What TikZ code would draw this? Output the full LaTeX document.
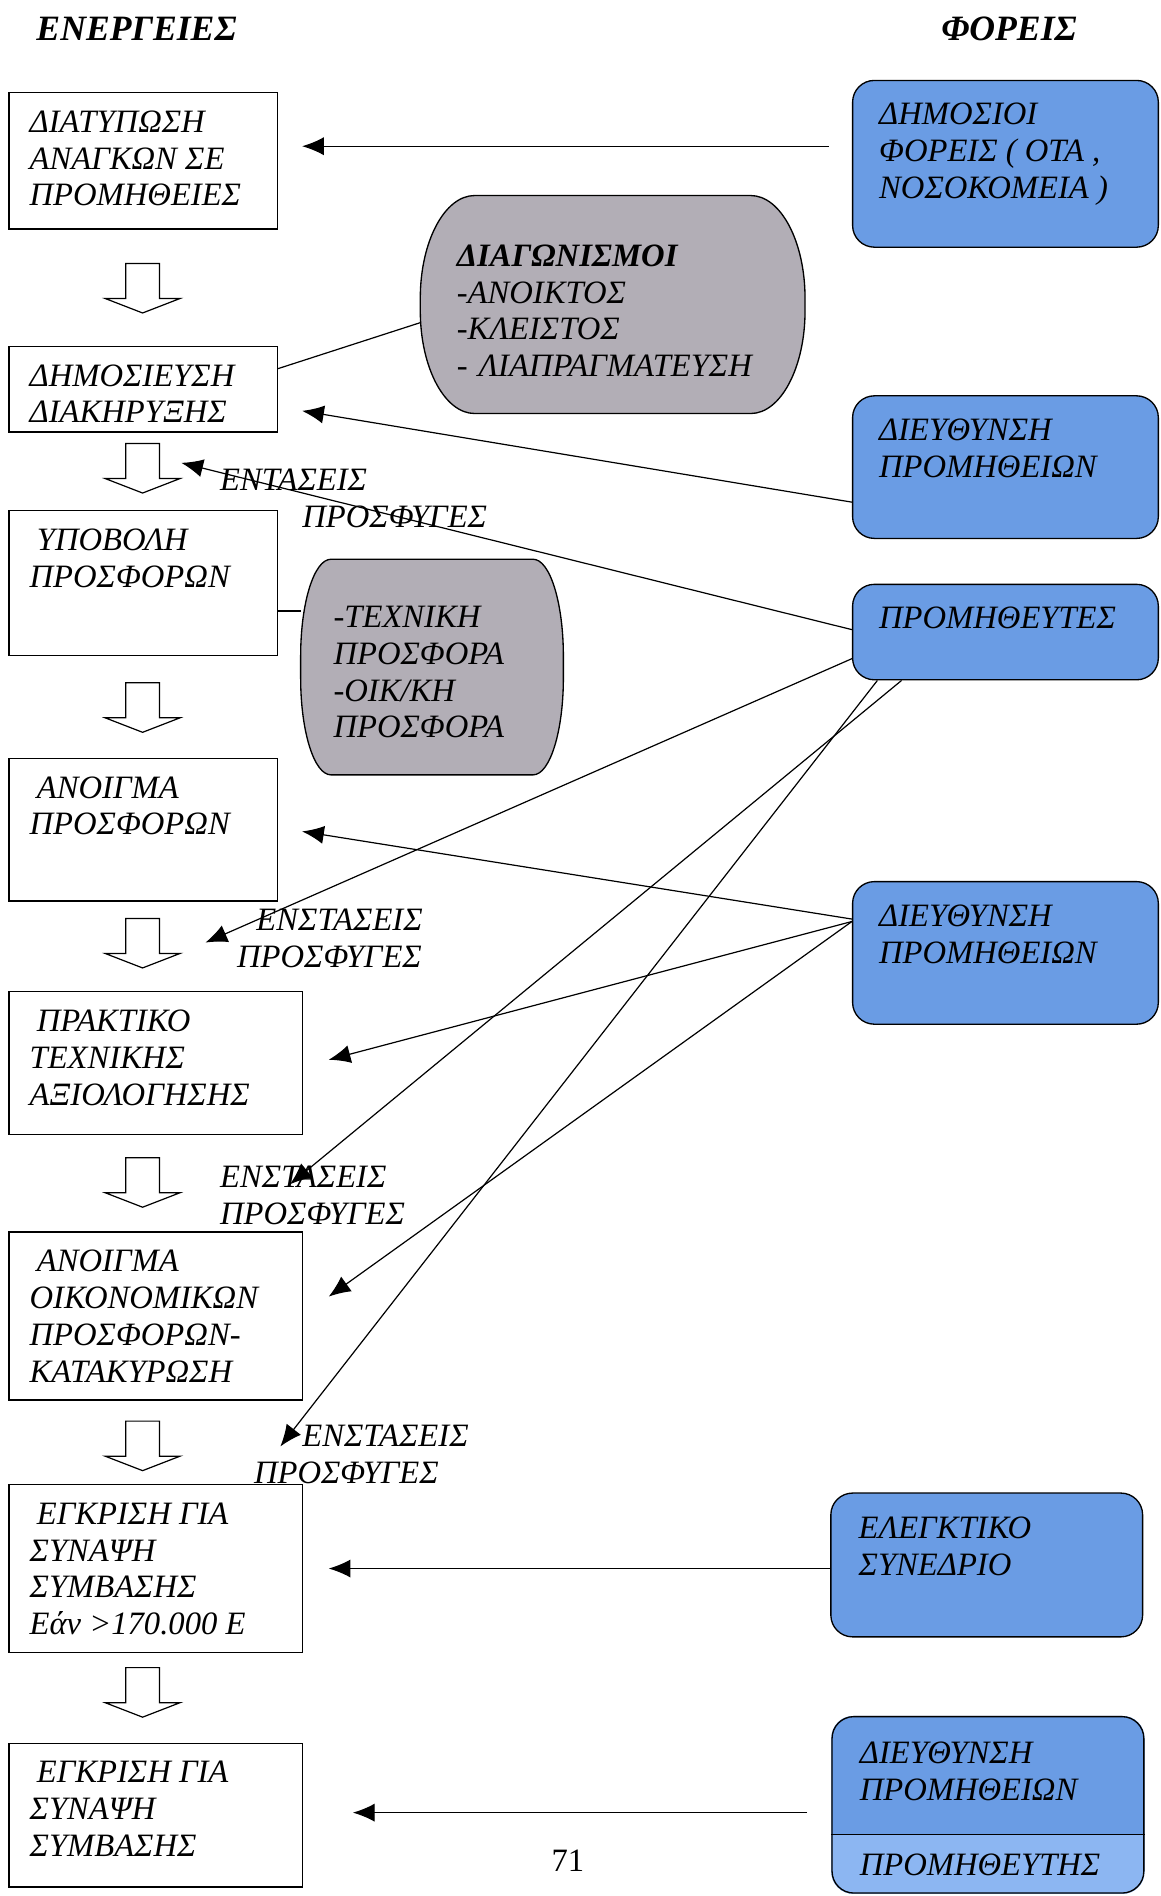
\documentclass[tikz,border=0pt]{standalone}
\usepackage{fontspec}
\setmainfont{Liberation Serif}
\usetikzlibrary{arrows.meta, backgrounds}

\definecolor{foreasblue}{RGB}{106,156,228}
\definecolor{foreaslight}{RGB}{140,182,242}
\definecolor{tendergrey}{RGB}{178,174,182}

\newcommand{\boxfont}{\fontsize{27}{30.5}\selectfont\itshape}
\newcommand{\boxtext}[3]{\parbox[t][#1][t]{#2}{\raggedright #3}}

\tikzstyle{actbox} = [draw = black, fill = white, line width = 1.1pt, anchor = north west, inner xsep = 17pt, inner ysep = 15pt, font = \boxfont]
\tikzstyle{actorbox} = [draw = black, fill = foreasblue, rounded corners = 18pt, line width = 1.1pt, anchor = north west, inner xsep = 22pt, inner ysep = 19pt, font = \boxfont]
\tikzstyle{tenderbox} = [align = left, font = \boxfont]
\tikzstyle{tendershape} = [draw = black, fill = tendergrey, line width = 1.1pt]
\tikzstyle{objection} = [anchor = north west, inner sep = 0pt, align = left, font = \boxfont]
\tikzstyle{heading} = [font = \fontsize{29.5}{33}\selectfont\bfseries\itshape]
\tikzstyle{flowline} = [line width = 1pt, -{Latex[length = 18pt, width = 15pt]}]
\tikzstyle{joinline} = [draw, line width = 1pt]

\tikzset{flowdown/.pic = {
	\draw[line width = 1pt, fill = white] (-14,0) -- (-14,-29) -- (-31,-29) -- (0,-41) -- (31,-29) -- (14,-29) -- (14,0) -- cycle;
}}

\begin{document}
\begin{tikzpicture}[x = 1pt, y = 1pt]
			\useasboundingbox (0,0) rectangle (960,-1569);
			\begin{scope}[on background layer]
				\fill[white] (0,0) rectangle (960,-1569);
			\end{scope}

			% column titles
			\node[heading, anchor = west, inner xsep = 0pt] (energies) at (30,-24) {ΕΝΕΡΓΕΙΕΣ};
			\node[heading] (foreis) at (835,-24) {ΦΟΡΕΙΣ};

			% actions
			\node[actbox] (B1) at (7,-76) {\boxtext{83pt}{188pt}{ΔΙΑΤΥΠΩΣΗ\\ΑΝΑΓΚΩΝ ΣΕ\\ΠΡΟΜΗΘΕΙΕΣ}};
			\node[actbox] (B2) at (7,-286) {\boxtext{41pt}{188pt}{ΔΗΜΟΣΙΕΥΣΗ\\ΔΙΑΚΗΡΥΞΗΣ}};
			\node[actbox] (B3) at (7,-422) {\boxtext{90pt}{188pt}{\hspace*{6pt}ΥΠΟΒΟΛΗ\\ΠΡΟΣΦΟΡΩΝ}};
			\node[actbox] (B4) at (7,-627) {\boxtext{88pt}{188pt}{\hspace*{6pt}ΑΝΟΙΓΜΑ\\ΠΡΟΣΦΟΡΩΝ}};
			\node[actbox] (B5) at (7,-820) {\boxtext{88pt}{209pt}{\hspace*{6pt}ΠΡΑΚΤΙΚΟ\\ΤΕΧΝΙΚΗΣ\\ΑΞΙΟΛΟΓΗΣΗΣ}};
			\node[actbox] (B6) at (7,-1019) {\boxtext{109pt}{209pt}{\hspace*{6pt}ΑΝΟΙΓΜΑ\\ΟΙΚΟΝΟΜΙΚΩΝ\\ΠΡΟΣΦΟΡΩΝ-\\ΚΑΤΑΚΥΡΩΣΗ}};
			\node[actbox] (B7) at (7,-1228) {\boxtext{109pt}{209pt}{\hspace*{6pt}ΕΓΚΡΙΣΗ ΓΙΑ\\ΣΥΝΑΨΗ\\ΣΥΜΒΑΣΗΣ\\Εάν >170.000 Ε}};
			\node[actbox] (B8) at (7,-1442) {\boxtext{89pt}{209pt}{\hspace*{6pt}ΕΓΚΡΙΣΗ ΓΙΑ\\ΣΥΝΑΨΗ\\ΣΥΜΒΑΣΗΣ}};

			\pic at (118,-218) {flowdown};
			\pic at (118,-367) {flowdown};
			\pic at (118,-565) {flowdown};
			\pic at (118,-760) {flowdown};
			\pic at (118,-958) {flowdown};
			\pic at (118,-1176) {flowdown};
			\pic at (118,-1380) {flowdown};

			% tenders and offers
			\node[tenderbox, text width = 258pt, inner xsep = 30pt, minimum height = 180pt] (G1) at (507,-252) {\rule{0pt}{28pt}\textbf{ΔΙΑΓΩΝΙΣΜΟΙ}\\-ΑΝΟΙΚΤΟΣ\\-ΚΛΕΙΣΤΟΣ\\-~ΛΙΑΠΡΑΓΜΑΤΕΥΣΗ};
			\node[tenderbox, text width = 163pt, inner xsep = 27pt, minimum height = 178pt] (G2) at (357.5,-552) {\rule{0pt}{26pt}-ΤΕΧΝΙΚΗ\\ΠΡΟΣΦΟΡΑ\\-ΟΙΚ/ΚΗ\\ΠΡΟΣΦΟΡΑ};
			\begin{scope}[on background layer]
				\draw[tendershape] ([xshift = 45pt]G1.north west) -- ([xshift = -45pt]G1.north east) arc[start angle = 90, end angle = 0, x radius = 45pt, y radius = 85pt] -- ([yshift = 85pt]G1.south east) arc[start angle = 0, end angle = -90, x radius = 45pt, y radius = 85pt] -- ([xshift = 45pt]G1.south west) arc[start angle = 270, end angle = 180, x radius = 45pt, y radius = 85pt] -- ([yshift = -85pt]G1.north west) arc[start angle = 180, end angle = 90, x radius = 45pt, y radius = 85pt] -- cycle;
				\draw[tendershape] ([xshift = 25pt]G2.north west) -- ([xshift = -25pt]G2.north east) arc[start angle = 90, end angle = 0, x radius = 25pt, y radius = 80pt] -- ([yshift = 80pt]G2.south east) arc[start angle = 0, end angle = -90, x radius = 25pt, y radius = 80pt] -- ([xshift = 25pt]G2.south west) arc[start angle = 270, end angle = 180, x radius = 25pt, y radius = 80pt] -- ([yshift = -80pt]G2.north west) arc[start angle = 180, end angle = 90, x radius = 25pt, y radius = 80pt] -- cycle;
			\end{scope}

			% bodies
			\node[actorbox] (R1) at (705,-66) {\boxtext{100pt}{209pt}{ΔΗΜΟΣΙΟΙ\\ΦΟΡΕΙΣ ( ΟΤΑ ,\\ΝΟΣΟΚΟΜΕΙΑ )}};
			\node[actorbox] (R2) at (705,-327) {\boxtext{80pt}{209pt}{ΔΙΕΥΘΥΝΣΗ\\ΠΡΟΜΗΘΕΙΩΝ}};
			\node[actorbox] (R3) at (705,-483) {\boxtext{41pt}{209pt}{ΠΡΟΜΗΘΕΥΤΕΣ}};
			\node[actorbox] (R4) at (705,-729) {\boxtext{80pt}{209pt}{ΔΙΕΥΘΥΝΣΗ\\ΠΡΟΜΗΘΕΙΩΝ}};
			\node[actorbox, inner xsep = 23pt, inner ysep = 20pt] (R5) at (687,-1235) {\boxtext{79pt}{212pt}{ΕΛΕΓΚΤΙΚΟ\\ΣΥΝΕΔΡΙΟ}};
			\node[actorbox, fill = none, inner xsep = 23pt, inner ysep = 21pt] (R6) at (688,-1420) {\boxtext{104pt}{212pt}{ΔΙΕΥΘΥΝΣΗ\\ΠΡΟΜΗΘΕΙΩΝ\\[31.5pt]ΠΡΟΜΗΘΕΥΤΗΣ}};
			\begin{scope}[on background layer]
				\fill[foreasblue, rounded corners = 18pt] (R6.north west) rectangle (R6.south east);
				\clip[rounded corners = 18pt] (R6.north west) rectangle (R6.south east);
				\fill[foreaslight] (R6.west |- 0,-1518) rectangle (R6.south east);
			\end{scope}
			\draw[line width = 1.1pt] (R6.west |- 0,-1518) -- (R6.east |- 0,-1518);

			% objections
			\node[objection] (L1) at (182,-388) {ΕΝΤΑΣΕΙΣ\\\hspace*{68pt}ΠΡΟΣΦΥΓΕΣ};
			\node[objection] (L2) at (196,-752) {\hspace*{16pt}ΕΝΣΤΑΣΕΙΣ\\ΠΡΟΣΦΥΓΕΣ};
			\node[objection] (L3) at (182,-965) {ΕΝΣΤΑΣΕΙΣ\\ΠΡΟΣΦΥΓΕΣ};
			\node[objection] (L4) at (210,-1179) {\hspace*{40pt}ΕΝΣΤΑΣΕΙΣ\\ΠΡΟΣΦΥΓΕΣ};

			\node[font = \fontsize{27}{30.5}\selectfont] (pagenum) at (470,-1540) {71};

			% connectors
			\draw[joinline] ([yshift = 17pt]B2.east) -- ([yshift = -15pt]G1.west);
			\coordinate (b3out) at ([yshift = -23pt]B3.east);
			\draw[joinline] (b3out) -- (b3out -| G2.west);

			\coordinate (t1) at (250,-121);
			\coordinate (t2) at (250,-340);
			\coordinate (t3) at (150,-383);
			\coordinate (t4) at (170,-780);
			\coordinate (t5) at (240,-980);
			\coordinate (t6) at (232,-1197);
			\coordinate (t7) at (250,-688);
			\coordinate (t8) at (272,-877);
			\coordinate (t9) at (272,-1073);
			\coordinate (t10) at (272,-1298);
			\coordinate (t11) at (292,-1500);
			\path[flowline]
			(R1.west |- t1) edge[shorten <= 19pt] (t1)
			([yshift = -29pt]R2.west) edge (t2)
			([yshift = 2pt]R3.west) edge (t3)
			([yshift = -22pt]R3.west) edge (t4)
			([xshift = -86pt]R3.south) edge (t5)
			([xshift = -106pt]R3.south) edge (t6)
			([yshift = 28pt]R4.west) edge (t7)
			([yshift = 26pt]R4.west) edge (t8)
			([yshift = 26pt]R4.west) edge (t9)
			(R5.west |- t10) edge (t10)
			(R6.west |- t11) edge[shorten <= 20pt] (t11);
		\end{tikzpicture}
\end{document}
